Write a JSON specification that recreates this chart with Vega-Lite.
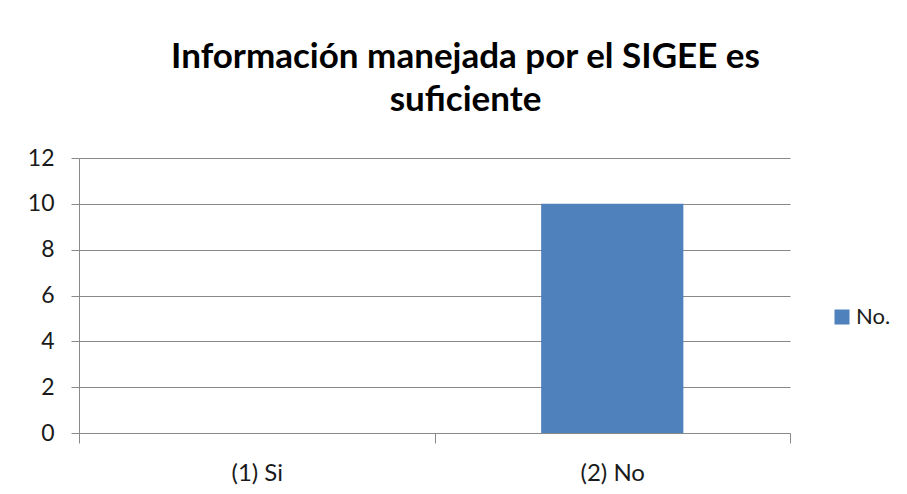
{
  "$schema": "https://vega.github.io/schema/vega-lite/v6.json",
  "autosize": {"type": "none"},
  "width": 711,
  "height": 275,
  "padding": {"left": 79, "top": 158, "right": 117, "bottom": 61},
  "background": "white",
  "title": {
    "text": ["Información manejada por el SIGEE es", "suficiente"],
    "font": "Lato",
    "fontSize": 35,
    "fontWeight": "bold",
    "color": "#000000",
    "anchor": "middle",
    "frame": "group",
    "dx": 31,
    "lineHeight": 43,
    "offset": 29
  },
  "data": {
    "values": [
      {"category": "(1) Si", "series": "No.", "value": 0},
      {"category": "(2) No", "series": "No.", "value": 10}
    ]
  },
  "mark": {"type": "bar", "width": {"band": 0.4}},
  "encoding": {
    "x": {
      "field": "category",
      "type": "nominal",
      "sort": null,
      "title": null,
      "scale": {"paddingInner": 0, "paddingOuter": 0},
      "axis": {
        "labelAngle": 0,
        "tickBand": "extent",
        "tickSize": 10,
        "labelPadding": 18,
        "domain": false,
        "grid": false,
        "ticks": true,
        "tickColor": "#898989",
        "labelFont": "Lato",
        "labelFontSize": 24,
        "labelColor": "#1a1a1a"
      }
    },
    "y": {
      "field": "value",
      "type": "quantitative",
      "title": null,
      "scale": {"domain": [0, 12], "nice": false},
      "axis": {
        "values": [0, 2, 4, 6, 8, 10, 12],
        "grid": true,
        "gridColor": "#898989",
        "gridOpacity": 1,
        "domain": true,
        "domainColor": "#898989",
        "tickColor": "#898989",
        "tickSize": 8,
        "labelPadding": 17,
        "labelFont": "Lato",
        "labelFontSize": 23,
        "labelColor": "#1a1a1a"
      }
    },
    "color": {
      "field": "series",
      "type": "nominal",
      "scale": {"range": ["#4F81BD"]},
      "legend": {
        "title": null,
        "orient": "none",
        "legendX": 752,
        "legendY": 148,
        "symbolType": "square",
        "symbolSize": 225,
        "symbolStrokeWidth": 0,
        "labelFont": "Lato",
        "labelFontSize": 22,
        "labelColor": "#1a1a1a",
        "labelOffset": 3
      }
    }
  },
  "config": {"view": {"stroke": null}}
}
